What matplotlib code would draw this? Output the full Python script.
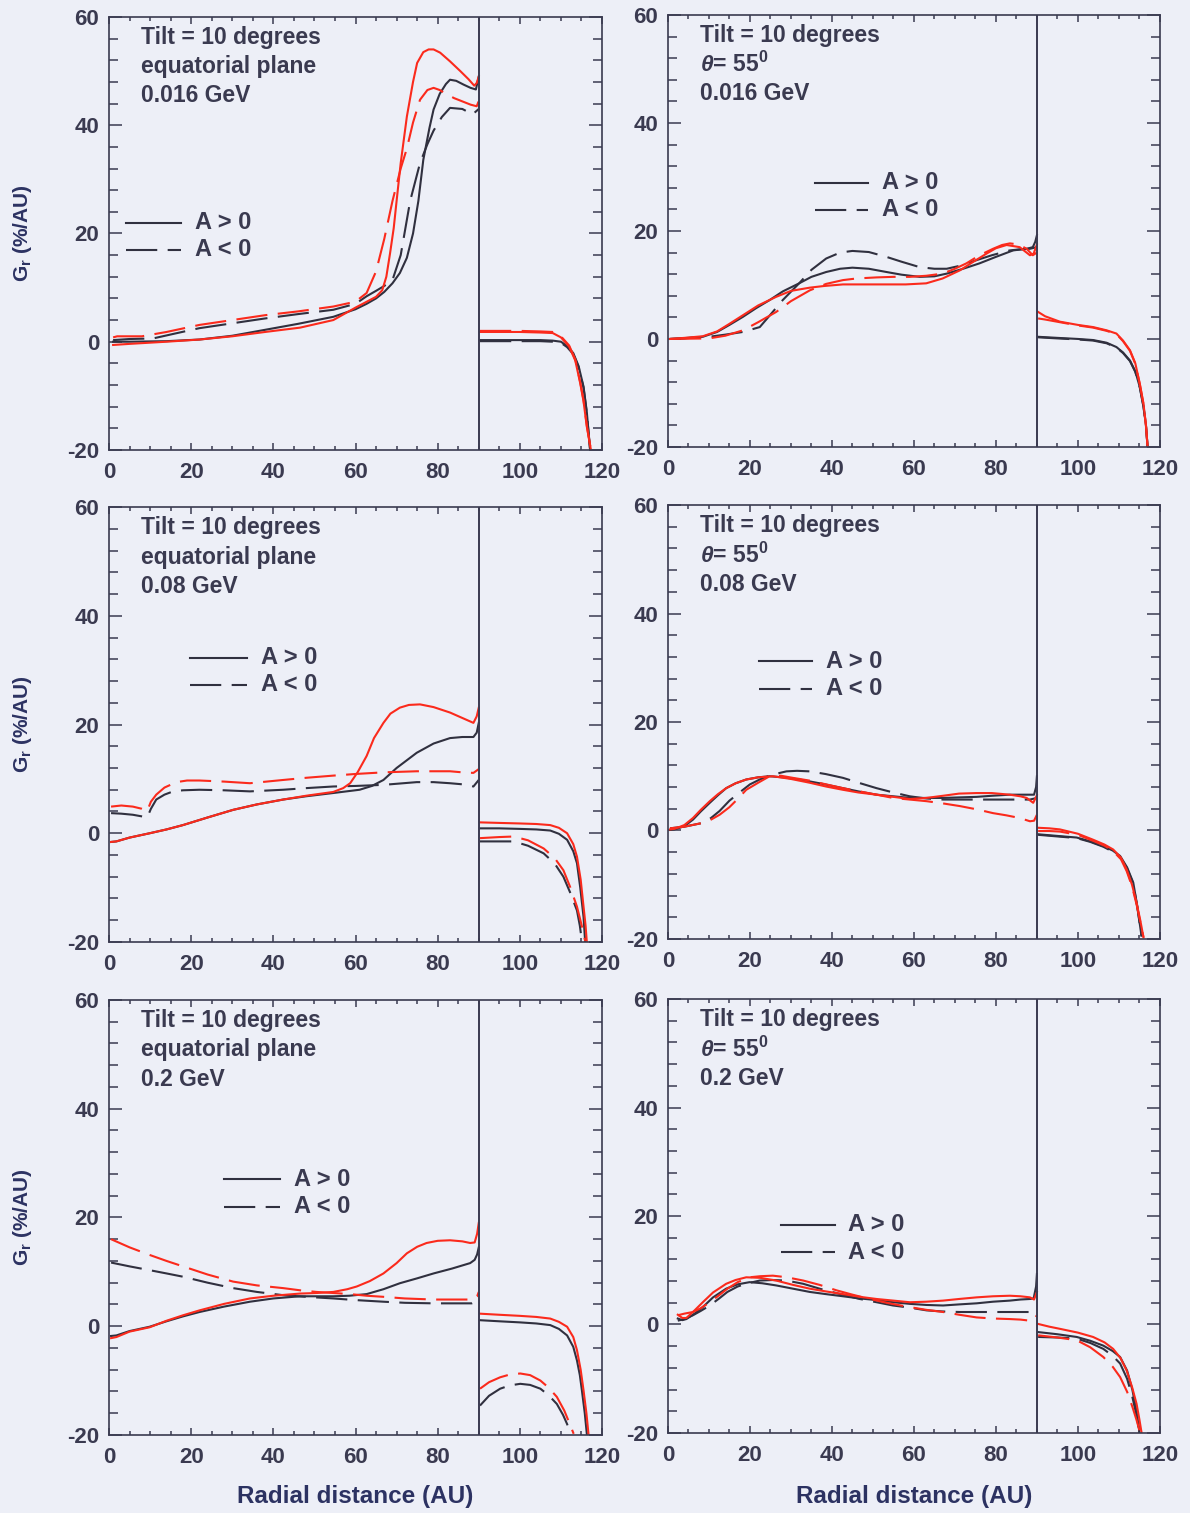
import matplotlib
matplotlib.use('Agg')
import matplotlib.pyplot as plt
import matplotlib.ticker as ticker

nan = float('nan')

# Radial gradient G_r (%/AU) vs radial distance (AU), tilt = 10 degrees.
# k = black lines, rd = red lines; pos = A > 0 (solid), neg = A < 0 (dashed).
# Inner heliosphere and heliosheath segments are separated by nan.
TS_RADIUS = 90

# --- equatorial plane, 0.016 GeV ---
eq016_k_pos_r = [1, 5, 14, 22, 30, 38, 46, 54.6, 60, 62.7, 65, 67, 69, 70.8, 72.5, 74, 75.3, 76.5, 78, 79,
                 80.5, 82, 83, 84.5, 86.3, 88, 89.3, 90, nan,
                 90.3, 95, 100, 105, 108, 110, 111.5, 113, 114.3, 115.5, 116.3, 117.1]
eq016_k_pos_g = [0, 0, 0.1, 0.4, 1.1, 2.2, 3.3, 4.6, 6, 7, 8, 9.2, 10.8, 12.7, 15.5, 20, 26, 33.6, 39.5, 42.9,
                 45.8, 47.6, 48.4, 48.2, 47.5, 46.9, 46.6, 49, nan,
                 0.3, 0.3, 0.3, 0.3, 0.2, 0, -0.8, -2.1, -4.5, -8.3, -13, -20]
eq016_k_neg_r = [1, 5, 10.7, 16, 22, 30, 38, 46, 54.6, 60, 62.7, 65, 67, 69, 71, 73.3, 75.7, 77.5, 79, 81,
                 83, 86, 88.5, 90, nan,
                 90.3, 95, 100, 105, 108, 110, 111.5, 113, 114.3, 115.5, 116.3, 117.1]
eq016_k_neg_g = [0.3, 0.5, 0.6, 1.5, 2.5, 3.4, 4.3, 5.1, 5.9, 7, 8.4, 9.4, 10.3, 11.4, 16, 26, 33, 36.5, 39, 41.5,
                 43.2, 43, 42, 43, nan,
                 0.1, 0.1, 0.1, 0.1, 0, -0.2, -1, -2.3, -4.7, -8.5, -13.2, -20]
eq016_rd_pos_r = [1, 5, 14, 22, 30, 38, 46.5, 54.6, 60, 63, 65, 66.5, 67.5, 68.4, 69.3, 70, 71, 72.5, 74, 75,
                  76.5, 77.8, 79, 80.6, 83, 85.5, 87.5, 88.9, 89.5, 90, nan,
                  90.3, 95, 100, 105, 108, 110, 112, 113.5, 114.7, 115.5, 116.3, 117.3]
eq016_rd_pos_g = [-0.6, -0.4, 0, 0.4, 1, 1.8, 2.6, 4, 6.3, 7.5, 8.3, 9.5, 12, 16.3, 21, 26, 33, 41.6, 48, 51.5,
                  53.5, 54, 54, 53.4, 51.8, 50, 48.5, 47.3, 47.8, 49, nan,
                  1.8, 1.8, 1.8, 1.7, 1.6, 0.8, -0.9, -3.5, -7.7, -11, -15.7, -20]
eq016_rd_neg_r = [1, 2, 8, 14, 22, 30, 38, 46, 54.6, 60, 62.7, 65, 67, 69, 71, 72.5, 74, 75.7, 77.5, 79,
                  80.5, 82, 84, 86, 88, 89.5, 90, nan,
                  90.3, 95, 100, 105, 108, 110, 112, 113.5, 114.7, 115.5, 116.3, 117.3]
eq016_rd_neg_g = [0.8, 1, 1, 1.8, 3.1, 4, 4.9, 5.6, 6.5, 7.4, 9, 13, 19, 26, 32, 35.7, 40.5, 44.7, 46.5, 46.9,
                  46.5, 45.8, 45, 44.4, 43.8, 43.5, 44.5, nan,
                  2.0, 2.0, 2.0, 1.9, 1.8, 1.0, -0.7, -3.3, -7.5, -10.8, -15.5, -20]

# --- theta = 55 deg, 0.016 GeV ---
th016_k_pos_r = [0.5, 4, 8.5, 12, 15, 18.3, 21.5, 24.8, 28, 32, 35, 38.6, 42, 45, 49, 53.3, 57, 61.4, 65, 68,
                 72, 76, 80, 84.2, 87.5, 89, 89.6, 90, nan,
                 90.3, 95, 100, 103.7, 107, 109.4, 111, 112.7, 114, 115.1, 116, 116.6, 117]
th016_k_pos_g = [0, 0.1, 0.4, 1.3, 2.6, 4.1, 5.7, 7.2, 8.8, 10.3, 11.5, 12.4, 13, 13.2, 13, 12.4, 11.9, 11.5, 11.6, 12.1,
                 13, 14, 15.2, 16.4, 16.7, 17, 18, 19.2, nan,
                 0.4, 0.2, 0, -0.2, -0.7, -1.5, -2.5, -4, -6, -8.9, -12.5, -16, -20]
th016_k_neg_r = [0.5, 5, 10, 14, 18.3, 22.4, 25, 28, 32, 35, 38.6, 42, 45, 49, 53.3, 57, 61.4, 65, 68, 71.5,
                 75.3, 79, 83.4, 86, 88.3, 90, nan,
                 90.3, 95, 100, 103.7, 107, 109.4, 111, 112.7, 114, 115.1, 116, 116.6, 117]
th016_k_neg_g = [0, 0.2, 0.4, 0.8, 1.3, 2.2, 4.5, 7.2, 10.3, 12.8, 14.9, 16, 16.3, 16.1, 15.2, 14.3, 13.3, 13, 13, 13.6,
                 14.6, 15.5, 16.4, 16.6, 16.7, 17, nan,
                 0.3, 0.1, -0.1, -0.3, -0.8, -1.6, -2.6, -4.1, -6.1, -9, -12.6, -16.1, -20]
th016_rd_pos_r = [0.5, 4, 8.5, 12, 15, 18.3, 22, 26.4, 30, 34.6, 38, 42.7, 48, 53.3, 58, 63, 67, 71.2, 74.5, 77.7,
                  80, 82.6, 85.8, 88.3, 89.2, 90, nan,
                  90.3, 92, 95.6, 100, 103.7, 107, 109.4, 111, 112.7, 114, 115.1, 116, 116.6, 117]
th016_rd_pos_g = [0, 0.2, 0.5, 1.4, 2.8, 4.4, 6.2, 7.8, 8.9, 9.5, 9.8, 10.1, 10.1, 10.1, 10.1, 10.3, 11.2, 12.7, 14.3, 15.8,
                  16.8, 17.4, 17, 15.5, 15.8, 17.5, nan,
                  5, 4.2, 3.2, 2.6, 2.2, 1.6, 1, -0.3, -2.1, -4.5, -8.3, -12, -16, -20]
th016_rd_neg_r = [0.5, 5, 10, 14, 18.3, 22, 26.4, 30, 34.6, 38.6, 42.7, 46, 50.9, 55, 59, 63, 67, 70, 72.8, 76,
                  79.3, 81.5, 83.4, 85.5, 87.5, 89, 90, nan,
                  90.3, 92, 95.6, 100, 103.7, 107, 109.4, 111, 112.7, 114, 115.1, 116, 116.6, 117]
th016_rd_neg_g = [0, 0.05, 0.1, 0.6, 1.6, 3.1, 5, 7, 9, 10.2, 10.9, 11.2, 11.4, 11.5, 11.5, 11.7, 12.1, 13, 14, 15.5,
                  16.7, 17.4, 17.7, 17.5, 16.7, 15.5, 16, nan,
                  3.8, 3.6, 3.1, 2.5, 2.1, 1.5, 0.9, -0.4, -2.2, -4.6, -8.4, -12.1, -16, -20]

# --- equatorial plane, 0.08 GeV ---
eq08_k_pos_r = [0.5, 1.8, 5, 9.9, 14, 18, 24, 30.2, 36, 42.4, 48, 54.6, 61, 64, 66.8, 70, 74.9, 79, 83, 86,
                88.7, 89.5, 90, nan,
                90.3, 95, 100, 104, 107.4, 109.5, 111.5, 113, 113.9, 114.7, 115.5, 115.9]
eq08_k_pos_g = [-1.6, -1.5, -0.8, 0, 0.7, 1.5, 2.9, 4.3, 5.3, 6.2, 6.8, 7.4, 8, 8.7, 9.8, 12, 14.8, 16.5, 17.5, 17.7,
                17.7, 18.5, 20.3, nan,
                0.9, 0.9, 0.8, 0.7, 0.5, -0.1, -1.2, -3.3, -5.5, -10, -15.4, -20]
eq08_k_neg_r = [0.5, 3, 5.8, 8, 9.3, 10.2, 11.5, 13.5, 15.6, 18, 22, 28, 34.3, 42.4, 48, 54.6, 60, 66.8, 74.9, 79,
                83, 86, 88.7, 90, nan,
                90.3, 95, 98.5, 102, 105.8, 108.5, 110.6, 112.3, 113.9, 114.6, 115.1]
eq08_k_neg_g = [3.7, 3.6, 3.4, 3.1, 2.9, 4.5, 6.2, 7.1, 7.7, 7.9, 8, 7.9, 7.7, 8, 8.3, 8.6, 8.7, 8.9, 9.4, 9.4,
                9.2, 9, 8.6, 9.8, nan,
                -1.5, -1.5, -1.5, -2.3, -3.7, -5.6, -8, -11, -14.2, -17, -19.8]
eq08_rd_pos_r = [0.5, 1.8, 5, 9.9, 14, 18, 24, 30.2, 36, 42.4, 48, 54.6, 57, 58.7, 60.5, 62.7, 64.5, 66.8, 68.5, 70.8,
                 73, 75.7, 79, 83, 86, 88.7, 89.5, 90, nan,
                 90.3, 95, 100, 104, 107.4, 109.5, 111.5, 113, 113.9, 114.8, 115.5, 116, 116.3]
eq08_rd_pos_g = [-1.6, -1.5, -0.8, 0, 0.7, 1.5, 2.9, 4.3, 5.3, 6.2, 6.9, 7.6, 8.3, 9.2, 11.2, 14.2, 17.5, 20.3, 22, 23.1,
                 23.6, 23.7, 23.2, 22.2, 21.2, 20.3, 21.5, 23.1, nan,
                 2, 1.9, 1.8, 1.7, 1.5, 1, 0, -2, -4.3, -8.5, -13.5, -17, -20]
eq08_rd_neg_r = [0.5, 3, 5.8, 8, 9.3, 10.2, 11.5, 13.5, 16.4, 19, 22, 28, 34.3, 42.4, 48, 54.6, 60, 66.8, 74.9, 79,
                 83, 86, 88.7, 90, nan,
                 90.3, 95, 98.5, 102, 105.8, 108.5, 110.6, 112.3, 113.9, 115, 115.9]
eq08_rd_neg_g = [4.9, 5.1, 4.9, 4.5, 4.1, 5.8, 7.1, 8.4, 9.4, 9.7, 9.7, 9.5, 9.2, 9.8, 10.2, 10.6, 10.9, 11.2, 11.4, 11.4,
                 11.4, 11.2, 11.1, 11.8, nan,
                 -0.9, -0.7, -0.6, -1.3, -2.8, -4.6, -6.8, -10, -13.5, -16.8, -19.8]

# --- theta = 55 deg, 0.08 GeV ---
th08_k_pos_r = [0.5, 1.6, 4, 6.1, 8, 10.2, 12.2, 14.2, 16.5, 19.1, 22, 24.8, 28, 32.1, 37, 42.7, 46.5, 50.9, 55, 59,
                63, 67.1, 71, 75.3, 79, 83.4, 86, 88.3, 89.3, 89.8, 90, nan,
                90.3, 95, 99.7, 103, 106.2, 108.5, 110.3, 112, 113.5, 114.5, 115.5]
th08_k_pos_g = [0.1, 0.2, 0.8, 2, 3.5, 5.1, 6.5, 7.8, 8.7, 9.4, 9.8, 10, 9.8, 9.4, 8.7, 7.8, 7.2, 6.6, 6.3, 6,
                6, 6, 6.1, 6.2, 6.4, 6.6, 6.6, 6.6, 6.6, 8, 10, nan,
                -0.7, -1, -1.3, -2, -2.9, -3.7, -4.7, -6.8, -9.6, -14, -19.4]
th08_k_neg_r = [0.5, 4, 8.5, 10.5, 12.6, 15, 18.3, 20, 22.4, 25.5, 28.9, 31.5, 34.6, 38.5, 42.7, 46.5, 50.9, 55, 59, 63,
                67.1, 71, 75.3, 79, 83.4, 86, 88.3, 90, nan,
                90.3, 95, 99.7, 103, 106.2, 108.5, 110.3, 112, 113.5, 114.5, 115.5]
th08_k_neg_g = [0.4, 0.7, 1.4, 2.3, 3.6, 5.5, 7.5, 8.5, 9.4, 10.3, 10.9, 11, 10.9, 10.4, 9.7, 8.8, 7.8, 7, 6.3, 5.9,
                5.7, 5.7, 5.7, 5.7, 5.7, 5.7, 5.7, 6, nan,
                -0.8, -1.1, -1.4, -2.1, -3.0, -3.9, -4.9, -7, -9.8, -14.2, -19.4]
th08_rd_pos_r = [0.5, 1.6, 4, 6.1, 8, 10.2, 12.2, 14.2, 16.5, 19.1, 22, 25.6, 30, 34.6, 38.6, 42.7, 46.5, 50.9, 55, 59,
                 63, 67.1, 71, 75.3, 79, 83.4, 86, 87.5, 89.1, 90, nan,
                 90.3, 93, 95.6, 100, 103.7, 106.5, 108.6, 110.5, 111.9, 113.2, 114.3, 115.2, 116]
th08_rd_pos_g = [0.2, 0.3, 1, 2.3, 3.8, 5.4, 6.7, 7.8, 8.7, 9.4, 9.8, 10, 9.5, 8.8, 8.1, 7.5, 7, 6.6, 6.2, 5.8,
                 6, 6.4, 6.8, 6.9, 6.9, 6.6, 6.3, 6, 5.1, 6.5, nan,
                 0.5, 0.4, 0.2, -0.6, -1.7, -2.6, -3.5, -5, -7.2, -10, -13.3, -16.5, -19.7]
th08_rd_neg_r = [0.5, 4, 8.5, 10.5, 12.6, 15, 17, 19.1, 22, 24.8, 27.5, 30.5, 34.5, 38.6, 42.7, 46.8, 50.9, 54.9, 59, 63.1,
                 67, 71.2, 75.3, 79.3, 82.5, 85.8, 88.3, 89.3, 90, nan,
                 90.3, 93, 95.6, 100, 103.7, 106.5, 108.6, 110.5, 111.9, 113.2, 114.3, 115.2, 116]
th08_rd_neg_g = [0.4, 0.7, 1.4, 2, 2.9, 4.3, 5.8, 7.5, 8.8, 10, 10.1, 9.7, 9.2, 8.5, 7.8, 7.2, 6.6, 6, 5.7, 5.4,
                 5, 4.5, 3.9, 3.2, 2.8, 2.3, 1.7, 1.8, 2.9, nan,
                 -0.1, -0.1, -0.2, -0.8, -1.9, -2.8, -3.8, -5.3, -7.5, -10.3, -13.6, -16.8, -19.7]

# --- equatorial plane, 0.2 GeV ---
eq2_k_pos_r = [0.5, 1.8, 5, 9.9, 14, 18, 22, 28, 34.3, 40, 46.5, 50.5, 54.6, 58.5, 62.7, 66.8, 70.8, 75, 79, 83.5,
               87.9, 89, 89.6, 90, nan,
               90.3, 95, 100, 104, 107.4, 109.5, 111.5, 113, 113.9, 114.6, 115.1, 115.8, 116.3]
eq2_k_pos_g = [-1.8, -1.7, -0.9, -0.1, 0.9, 1.8, 2.6, 3.6, 4.5, 5.1, 5.5, 5.5, 5.5, 5.6, 5.9, 6.8, 7.9, 8.8, 9.7, 10.6,
               11.6, 12.2, 13.2, 14.5, nan,
               1.1, 0.9, 0.7, 0.5, 0.2, -0.5, -1.7, -3.8, -6.3, -9, -11.8, -16, -19.8]
eq2_k_neg_r = [0.5, 5, 9.9, 14, 18, 24, 30.2, 36, 42.4, 48, 54.6, 60, 66.8, 72, 79, 84, 88.3, 89.6, 90, nan,
               90.3, 92.5, 95.2, 97.5, 100.1, 102.5, 105, 107, 109, 110.5, 111.5, 112.3]
eq2_k_neg_g = [11.7, 11, 10.3, 9.7, 9.1, 8, 7, 6.3, 5.7, 5.4, 5.1, 4.8, 4.5, 4.3, 4.2, 4.2, 4.2, 4.6, 5.4, nan,
               -14.6, -12.8, -11.5, -10.9, -10.6, -10.8, -11.5, -12.7, -14.3, -16.3, -18, -19.8]
eq2_rd_pos_r = [0.5, 1.8, 5, 9.9, 14, 18, 22, 28, 34.3, 40, 46.5, 50.5, 54.6, 58, 60.3, 63.5, 66.8, 70, 72.5, 75,
                77.3, 80, 83, 86, 87.9, 89, 89.6, 90, nan,
                90.3, 95, 100, 104, 107.4, 109.5, 111.5, 113, 113.9, 114.8, 115.5, 116.2, 116.7]
eq2_rd_pos_g = [-2.2, -2, -1, -0.2, 1, 2, 2.9, 4.1, 5.1, 5.6, 6, 6.1, 6.3, 6.8, 7.3, 8.3, 9.7, 11.6, 13.4, 14.6,
                15.3, 15.7, 15.8, 15.6, 15.3, 15.4, 17, 19, nan,
                2.3, 2.1, 1.9, 1.7, 1.4, 0.8, -0.1, -2, -4.4, -8, -11.8, -16, -19.8]
eq2_rd_neg_r = [0.5, 5, 9.9, 14, 18, 24, 30.2, 36, 42.4, 46.5, 50.5, 54.6, 58.7, 62.7, 66.8, 72, 79, 84, 88.3, 89.6,
                90, nan,
                90.3, 92.5, 95.2, 97.5, 100.1, 102.5, 105, 107, 109, 110.8, 112, 113.1]
eq2_rd_neg_g = [16, 14.5, 13.1, 12, 11, 9.5, 8.2, 7.5, 7, 6.6, 6.3, 6.1, 5.9, 5.6, 5.4, 5.1, 4.9, 4.9, 4.9, 5.5,
                6.3, nan,
                -11.5, -10.3, -9.4, -8.9, -8.7, -9, -10, -11.3, -13, -15.5, -17.7, -19.8]

# --- theta = 55 deg, 0.2 GeV ---
th2_k_pos_r = [2.4, 3.5, 4.5, 6.5, 8.5, 11, 14.2, 17, 19.9, 23, 26.4, 30.5, 34.6, 38.5, 42.7, 46.8, 50.9, 55, 59, 63,
               67.1, 71, 75.3, 79.3, 83.4, 86, 88.3, 89.2, 89.8, 90, nan,
               90.3, 95, 99.7, 103, 106.2, 108.5, 110.3, 112, 113.3, 114.3, 115]
th2_k_pos_g = [1.1, 0.8, 1, 2, 3.2, 5, 6.6, 7.4, 7.8, 7.6, 7.2, 6.6, 6, 5.6, 5.2, 4.8, 4.5, 4.1, 3.8, 3.6,
               3.5, 3.7, 3.9, 4.2, 4.4, 4.6, 4.7, 4.8, 7, 9.3, nan,
               -1.4, -1.8, -2.3, -3, -3.9, -4.9, -6, -8.5, -12.1, -16, -19.8]
th2_k_neg_r = [2.4, 4, 6.1, 8, 10.2, 12.5, 14.5, 17, 19.5, 22.4, 25.5, 28.9, 33, 37, 42, 46.8, 50.9, 54.9, 59, 63.1,
               67, 71.2, 75.3, 79.3, 83.4, 86, 88.3, 89.5, 90, nan,
               90.3, 95, 99.7, 103, 106.2, 108.5, 110.3, 112, 113.3, 114.3, 115]
th2_k_neg_g = [0.7, 1, 1.7, 2.5, 3.5, 4.8, 6, 7, 7.6, 8.1, 8.2, 8.1, 7.5, 6.6, 5.6, 4.7, 4.1, 3.5, 3.1, 2.6,
               2.4, 2.3, 2.3, 2.3, 2.3, 2.3, 2.3, 2.5, 3, nan,
               -2.3, -2.4, -2.6, -3.4, -4.5, -5.8, -7.2, -10, -13.4, -16.8, -19.8]
th2_rd_pos_r = [2.4, 3.5, 4.5, 6.5, 8.5, 11, 14.2, 16.5, 19.1, 22.5, 26.4, 30.5, 34.6, 38.5, 42.7, 46.8, 50.9, 55, 59, 63,
                67.1, 71, 75.3, 79.3, 83.4, 86, 88.3, 89.3, 90, nan,
                90.3, 93, 95.6, 100, 103.7, 106.5, 108.6, 110.4, 111.9, 113.2, 114.3, 115, 115.5]
th2_rd_pos_g = [1.8, 1.2, 1.2, 2.6, 4.1, 5.9, 7.5, 8.2, 8.7, 8.6, 8.1, 7.3, 6.6, 6.1, 5.6, 5.1, 4.7, 4.4, 4.1, 4.2,
                4.4, 4.7, 5, 5.2, 5.3, 5.2, 5, 4.6, 6, nan,
                0.1, -0.4, -0.8, -1.5, -2.3, -3.3, -4.5, -6.2, -8.5, -11.5, -14.6, -17.5, -19.8]
th2_rd_neg_r = [2.4, 4, 6.1, 8, 10.2, 12.5, 14.5, 17, 19.9, 22.5, 25.6, 29, 33, 37, 41.1, 45, 49.2, 54, 59, 63,
                67.1, 71, 75.3, 79.3, 83.4, 86, 88.3, 89.2, 90, nan,
                90.3, 95, 99.7, 103, 106.2, 108.5, 110.3, 112, 113.3, 114.3, 115]
th2_rd_neg_g = [1.7, 2, 2.3, 3, 4.1, 5.4, 6.6, 7.8, 8.7, 8.9, 9, 8.7, 8.1, 7.3, 6.3, 5.5, 4.7, 3.9, 3.2, 2.7,
                2.3, 1.8, 1.3, 1.1, 1, 0.9, 0.7, 0.8, 1.7, nan,
                -2, -2.4, -2.9, -4.2, -6, -7.8, -9.7, -12.4, -15.2, -17.6, -19.5]

LABEL_EQ = ['Tilt = 10 degrees', 'equatorial plane']
LABEL_TH = ['Tilt = 10 degrees', r'$\theta$= 55$^0$']
ENERGIES = ['0.016 GeV', '0.08 GeV', '0.2 GeV']

plt.rcParams['font.family'] = ['Liberation Sans', 'DejaVu Sans']
plt.rcParams['font.weight'] = 'bold'
plt.rcParams['axes.unicode_minus'] = False
plt.rcParams['mathtext.fontset'] = 'custom'
plt.rcParams['mathtext.rm'] = 'Liberation Sans:bold'
plt.rcParams['mathtext.it'] = 'Liberation Sans:italic:bold'
plt.rcParams['mathtext.bf'] = 'Liberation Sans:bold'

BG = '#edeff7'
INK = '#3a3a50'
LABEL_INK = '#2c3262'
BLACK = '#30303f'
RED = '#fb2a1c'
DASH = (15, 5)
LW = 1.5


def draw_panel(ax, curves, title_lines, legend_pos):
    ax.set_facecolor(BG)
    for r, g, color, dashed in curves:
        line, = ax.plot(r, g, color=color, lw=LW)
        if dashed:
            line.set_dashes(DASH)
    ax.axvline(TS_RADIUS, color=INK, lw=1.4)

    ax.set_xlim(0, 120)
    ax.set_ylim(-20, 60)
    ax.xaxis.set_major_locator(ticker.MultipleLocator(20))
    ax.xaxis.set_minor_locator(ticker.MultipleLocator(5))
    ax.yaxis.set_major_locator(ticker.MultipleLocator(20))
    ax.yaxis.set_minor_locator(ticker.MultipleLocator(4))
    ax.tick_params(which='both', direction='in', top=True, right=True,
                   colors=INK, labelsize=16, width=1.1)
    ax.tick_params(axis='x', which='major', length=4.8, pad=9)
    ax.tick_params(axis='x', which='minor', length=2.9)
    ax.tick_params(axis='y', which='major', length=9.5, pad=7)
    ax.tick_params(axis='y', which='minor', length=6.3)
    for sp in ax.spines.values():
        sp.set_color(INK)
        sp.set_linewidth(1.2)

    for i, txt in enumerate(title_lines):
        ax.text(0.065, 0.952 - 0.067 * i, txt, transform=ax.transAxes,
                fontsize=16.5, color=INK, va='center', ha='left')

    # legend drawn by hand, as in the original
    lx0, lx1, ly = legend_pos
    ax.plot([lx0, lx1], [ly, ly], color=BLACK, lw=LW, transform=ax.transAxes)
    dl, = ax.plot([lx0, lx1], [ly - 0.063, ly - 0.063], color=BLACK, lw=LW,
                  transform=ax.transAxes)
    dl.set_dashes(DASH)
    ax.text(lx1 + 0.028, ly, 'A > 0', transform=ax.transAxes, fontsize=17,
            color=INK, va='center', ha='left')
    ax.text(lx1 + 0.028, ly - 0.063, 'A < 0', transform=ax.transAxes,
            fontsize=17, color=INK, va='center', ha='left')


fig = plt.figure(figsize=(11.9, 15.13), dpi=100, facecolor=BG)

left_boxes = [[0.0916, 0.7026, 0.4143, 0.2862],
              [0.0916, 0.3774, 0.4143, 0.2875],
              [0.0916, 0.0516, 0.4143, 0.2875]]
right_boxes = [[0.5613, 0.7046, 0.4134, 0.2855],
               [0.5613, 0.3794, 0.4134, 0.2868],
               [0.5613, 0.0529, 0.4134, 0.2868]]
left_legend = [(0.035, 0.147, 0.525), (0.165, 0.280, 0.654), (0.233, 0.347, 0.588)]
right_legend = [(0.298, 0.407, 0.612), (0.186, 0.293, 0.640), (0.230, 0.339, 0.480)]

eq_sets = [
    [(eq016_k_pos_r, eq016_k_pos_g, BLACK, False), (eq016_k_neg_r, eq016_k_neg_g, BLACK, True),
     (eq016_rd_pos_r, eq016_rd_pos_g, RED, False), (eq016_rd_neg_r, eq016_rd_neg_g, RED, True)],
    [(eq08_k_pos_r, eq08_k_pos_g, BLACK, False), (eq08_k_neg_r, eq08_k_neg_g, BLACK, True),
     (eq08_rd_pos_r, eq08_rd_pos_g, RED, False), (eq08_rd_neg_r, eq08_rd_neg_g, RED, True)],
    [(eq2_k_pos_r, eq2_k_pos_g, BLACK, False), (eq2_k_neg_r, eq2_k_neg_g, BLACK, True),
     (eq2_rd_pos_r, eq2_rd_pos_g, RED, False), (eq2_rd_neg_r, eq2_rd_neg_g, RED, True)],
]
th_sets = [
    [(th016_k_pos_r, th016_k_pos_g, BLACK, False), (th016_k_neg_r, th016_k_neg_g, BLACK, True),
     (th016_rd_pos_r, th016_rd_pos_g, RED, False), (th016_rd_neg_r, th016_rd_neg_g, RED, True)],
    [(th08_k_pos_r, th08_k_pos_g, BLACK, False), (th08_k_neg_r, th08_k_neg_g, BLACK, True),
     (th08_rd_pos_r, th08_rd_pos_g, RED, False), (th08_rd_neg_r, th08_rd_neg_g, RED, True)],
    [(th2_k_pos_r, th2_k_pos_g, BLACK, False), (th2_k_neg_r, th2_k_neg_g, BLACK, True),
     (th2_rd_pos_r, th2_rd_pos_g, RED, False), (th2_rd_neg_r, th2_rd_neg_g, RED, True)],
]

for row in range(3):
    axl = fig.add_axes(left_boxes[row])
    draw_panel(axl, eq_sets[row], LABEL_EQ + [ENERGIES[row]], left_legend[row])
    axr = fig.add_axes(right_boxes[row])
    draw_panel(axr, th_sets[row], LABEL_TH + [ENERGIES[row]], right_legend[row])
    b, h = left_boxes[row][1], left_boxes[row][3]
    fig.text(0.0185, b + h / 2, r'G$_\mathregular{r}$ (%/AU)', rotation=90,
             fontsize=15, color=LABEL_INK, ha='center', va='center')

fig.text(0.0916 + 0.4143 / 2, 0.0106, 'Radial distance (AU)', fontsize=17.5,
         color=LABEL_INK, ha='center', va='center')
fig.text(0.5613 + 0.4134 / 2, 0.0106, 'Radial distance (AU)', fontsize=17.5,
         color=LABEL_INK, ha='center', va='center')

fig.savefig('out.png', dpi=100, facecolor=fig.get_facecolor())
